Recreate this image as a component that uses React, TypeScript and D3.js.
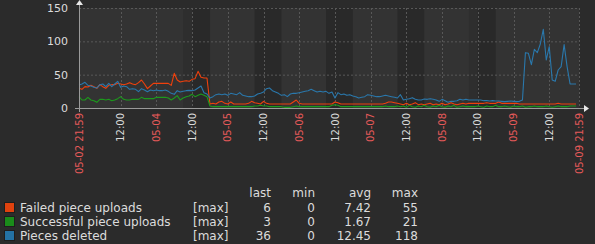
import React from "react";
import * as d3 from "d3";

// ---- data (hourly samples starting 05-02 21:59) ----
const seriesNames = ["Failed piece uploads", "Successful piece uploads", "Pieces deleted"];
const seriesColors = ["#f0400c", "#1c9a1c", "#2a78ac"];
const swatchColors = ["#e0420e", "#1a8c1a", "#2472a4"];

const failedUploads = [
  29.5, 28, 32, 31.5, 34, 32, 29.5, 35, 32, 29.5, 34, 35,
  35, 37, 36, 35, 36, 38, 36, 35, 38, 42, 36, 29,
  33, 37, 37, 37, 37, 37, 37, 34, 52, 42, 39, 40,
  41, 40, 43, 44, 55, 46, 45, 45, 6, 7, 6, 9,
  10, 7, 6, 9, 6, 6, 6, 6, 6, 7, 10, 8,
  7, 6, 10, 7, 6, 6, 6, 6, 6, 6, 6, 6,
  9, 12, 7, 6, 6, 6, 6, 6, 6, 6, 6, 6,
  6, 6, 9, 8, 6, 6, 6, 6, 6, 6, 6, 6,
  6, 6, 6, 6, 6, 6, 6, 7, 9, 9, 8, 7,
  6, 5, 7, 5, 6, 8, 5, 6, 5, 6, 7, 5,
  6, 5, 7, 5, 6, 8, 6, 5, 6, 7, 6, 7,
  7, 7, 7, 7, 7, 8, 7, 7, 7, 9, 7, 7,
  7, 7, 7, 7, 6, 6, 6, 6, 6, 6, 6, 6,
  6, 6, 6, 6, 6, 7, 6, 6, 6, 6, 6, 6,
];
const successfulUploads = [
  17, 12, 12, 16, 12, 11, 8.5, 13, 13, 12, 13, 11,
  12, 14, 17, 13, 12, 12, 13, 13, 13, 16, 14, 14,
  14, 14, 16, 16, 16, 16, 15, 12, 15, 18.5, 12, 15,
  17, 18, 20.5, 17, 19, 21, 19, 17, 3, 2, 2, 2,
  2, 2, 2, 2, 2, 2, 2, 2, 2, 2, 2, 3,
  3, 4, 3, 3, 2, 2, 2, 2, 2, 1, 1, 1,
  2, 3, 2, 2, 2, 2, 2, 2, 2, 2, 2, 2,
  2, 4, 5, 4, 2, 2, 2, 2, 2, 2, 2, 2,
  2, 2, 2, 2, 2, 2, 2, 3, 2, 2, 2, 3,
  2, 3, 1, 4, 2, 1, 3, 2, 4, 2, 1, 3,
  2, 4, 2, 1, 3, 2, 4, 1, 2, 3, 2, 2,
  2, 2, 3, 2, 1, 3, 2, 2, 4, 2, 2, 3,
  2, 1, 3, 2, 2, 3, 1, 2, 2, 3, 2, 2,
  2, 3, 2, 1, 2, 3, 2, 2, 2, 3, 3, 3,
];
const piecesDeleted = [
  34.5, 36, 38.5, 34, 33, 31, 30, 35, 36, 32, 37, 32,
  36, 40, 31, 33, 32, 28, 29, 28, 24.5, 29, 27, 24.5,
  27, 26, 27, 26, 26, 27, 25, 22, 20.5, 26, 24, 25,
  26, 26.5, 26, 27, 30, 33, 23, 21, 15, 17, 20, 21,
  20, 21, 19, 22, 21, 20, 23, 19, 18, 17, 17, 18,
  21, 22, 24, 29, 30, 26, 24, 22, 19, 20, 17, 21,
  22, 22, 23, 24, 25, 26, 28, 26, 24, 25, 24, 25,
  22, 24, 15, 23, 20, 21, 19, 20, 18, 17, 15, 16,
  17, 20, 19, 18, 17, 17, 18, 19, 18, 17, 16, 15,
  20, 12, 13, 14, 15.5, 13, 12, 12, 13.5, 13, 14, 13,
  12, 10, 13, 11, 8.5, 10, 10, 11, 13, 12, 13, 12,
  12, 12, 12, 12, 11, 11, 10.5, 11, 10.5, 10.5, 10, 9.5,
  10, 10.5, 10, 9.5, 10, 12, 83, 82, 65, 88, 83, 96,
  118, 72, 92, 42, 40, 57, 62, 95, 62, 36, 36, 36,
];

const yTicks = [0, 50, 100, 150];
const startLabel = "05-02 21:59";
const endLabel = "05-09 21:59";
const gridTimes = [
  "2024-05-03T12:00", "2024-05-04T00:00", "2024-05-04T12:00", "2024-05-05T00:00",
  "2024-05-05T12:00", "2024-05-06T00:00", "2024-05-06T12:00", "2024-05-07T00:00",
  "2024-05-07T12:00", "2024-05-08T00:00", "2024-05-08T12:00", "2024-05-09T00:00",
  "2024-05-09T12:00",
];
// shaded periods: [from, to]
const darkBands = [
  ["2024-05-04T12:00", "2024-05-04T18:00"],
  ["2024-05-05T09:00", "2024-05-05T18:00"],
  ["2024-05-06T09:00", "2024-05-06T18:00"],
  ["2024-05-07T09:00", "2024-05-07T18:00"],
  ["2024-05-08T12:00", "2024-05-08T18:00"],
];
const midBands = [
  ["2024-05-04T09:00", "2024-05-04T12:00"],
  ["2024-05-08T09:00", "2024-05-08T12:00"],
];

const legendCF = "[max]";
const lastVals = ["6", "3", "36"];
const minVals = ["0", "0", "0"];
const avgVals = ["7.42", "1.67", "12.45"];
const maxVals = ["55", "21", "118"];

export default function App() {
  const W = 595, H = 244;
  const start = new Date(2024, 4, 2, 21, 59);
  const end = new Date(2024, 4, 9, 21, 59);
  const x = d3.scaleTime().domain([start, end]).range([79, 579]);
  const y = d3.scaleLinear().domain([0, 150]).range([108, 8]);
  const hour = 3600 * 1000;
  const allSeries = [failedUploads, successfulUploads, piecesDeleted];
  const line = d3
    .line<number>()
    .x((_, i) => x(new Date(start.getTime() + i * hour)))
    .y((d) => y(d));
  const parse = (s: string) => new Date(s);
  const fmtDay = d3.timeFormat("%m-%d");
  const fmtHour = d3.timeFormat("%H:%M");
  const textCol = "#dcdcdc";
  const dateCol = "#e65a5a";
  const axisFont = "DejaVu Sans, sans-serif";

  const [x0, x1] = x.range();
  const [yb, yt] = y.range();

  return (
    <svg width={W} height={H} style={{ position: "absolute", left: 0, top: 0 }} xmlns="http://www.w3.org/2000/svg">
      <rect x={0} y={0} width={W} height={H} fill="#2b2b2b" />
      <rect x={x0} y={yt} width={x1 - x0} height={yb - yt} fill="#333333" />
      {midBands.map(([a, b], i) => (
        <rect key={"m" + i} x={x(parse(a))} y={yt} width={x(parse(b)) - x(parse(a))} height={yb - yt} fill="#2e2e2e" />
      ))}
      {darkBands.map(([a, b], i) => (
        <rect key={"d" + i} x={x(parse(a))} y={yt} width={x(parse(b)) - x(parse(a))} height={yb - yt} fill="#292929" />
      ))}
      {/* grid */}
      {yTicks.filter((t) => t > 0).map((t) => (
        <line key={"gy" + t} x1={x0} x2={x1} y1={y(t) + 0.5} y2={y(t) + 0.5} stroke="#585858" strokeDasharray="2,2" />
      ))}
      {gridTimes.concat(["2024-05-09T21:59"]).map((t) => (
        <line key={"gx" + t} x1={Math.round(x(parse(t))) + 0.5} x2={Math.round(x(parse(t))) + 0.5} y1={yt} y2={yb} stroke="#585858" strokeDasharray="2,2" />
      ))}
      {/* series */}
      {allSeries.map((s, k) => (
        <path key={"s" + k} d={line(s) || ""} fill="none" stroke={seriesColors[k]} strokeWidth={1.1} strokeLinejoin="round" />
      ))}
      {/* axes */}
      <line x1={75} x2={584} y1={108.5} y2={108.5} stroke="#9a9a9a" />
      <line x1={79.5} x2={79.5} y1={112} y2={3} stroke="#9a9a9a" />
      <path d={`M584,105 L589,108.5 L584,112 Z`} fill="#e8e8e8" />
      <path d={`M76,5 L79.5,0 L83,5 Z`} fill="#e8e8e8" />
      {yTicks.map((t) => (
        <text key={"yl" + t} x={68} y={y(t)} dy="0.36em" textAnchor="end" fontFamily={axisFont} fontSize={11} fill={textCol}>
          {t}
        </text>
      ))}
      {gridTimes.map((t) => {
        const d = parse(t);
        const isDay = d.getHours() === 0;
        const xx = x(d);
        return (
          <text key={"xl" + t} transform={`translate(${xx},113) rotate(-90)`} dy="0.36em" textAnchor="end" fontFamily={axisFont} fontSize={10} fill={isDay ? dateCol : textCol}>
            {isDay ? fmtDay(d) : fmtHour(d)}
          </text>
        );
      })}
      <text transform={`translate(${x(start)},113) rotate(-90)`} dy="0.36em" textAnchor="end" fontFamily={axisFont} fontSize={10} fill={dateCol}>
        {startLabel}
      </text>
      <text transform={`translate(${x(end)},113) rotate(-90)`} dy="0.36em" textAnchor="end" fontFamily={axisFont} fontSize={10} fill={dateCol}>
        {endLabel}
      </text>
      {/* legend */}
      <g fontFamily={axisFont} fontSize={12} fill={textCol}>
        <text x={271} y={197} textAnchor="end">last</text>
        <text x={315} y={197} textAnchor="end">min</text>
        <text x={371} y={197} textAnchor="end">avg</text>
        <text x={418} y={197} textAnchor="end">max</text>
        {seriesNames.map((n, i) => {
          const by = 211.5 + i * 14;
          return (
            <g key={"lg" + i}>
              <rect x={4.5} y={by - 9} width={10} height={10} fill={swatchColors[i]} stroke="#1e1e1e" />
              <text x={20} y={by}>{n}</text>
              <text x={193} y={by}>{legendCF}</text>
              <text x={271} y={by} textAnchor="end">{lastVals[i]}</text>
              <text x={315} y={by} textAnchor="end">{minVals[i]}</text>
              <text x={371} y={by} textAnchor="end">{avgVals[i]}</text>
              <text x={418} y={by} textAnchor="end">{maxVals[i]}</text>
            </g>
          );
        })}
      </g>
    </svg>
  );
}
